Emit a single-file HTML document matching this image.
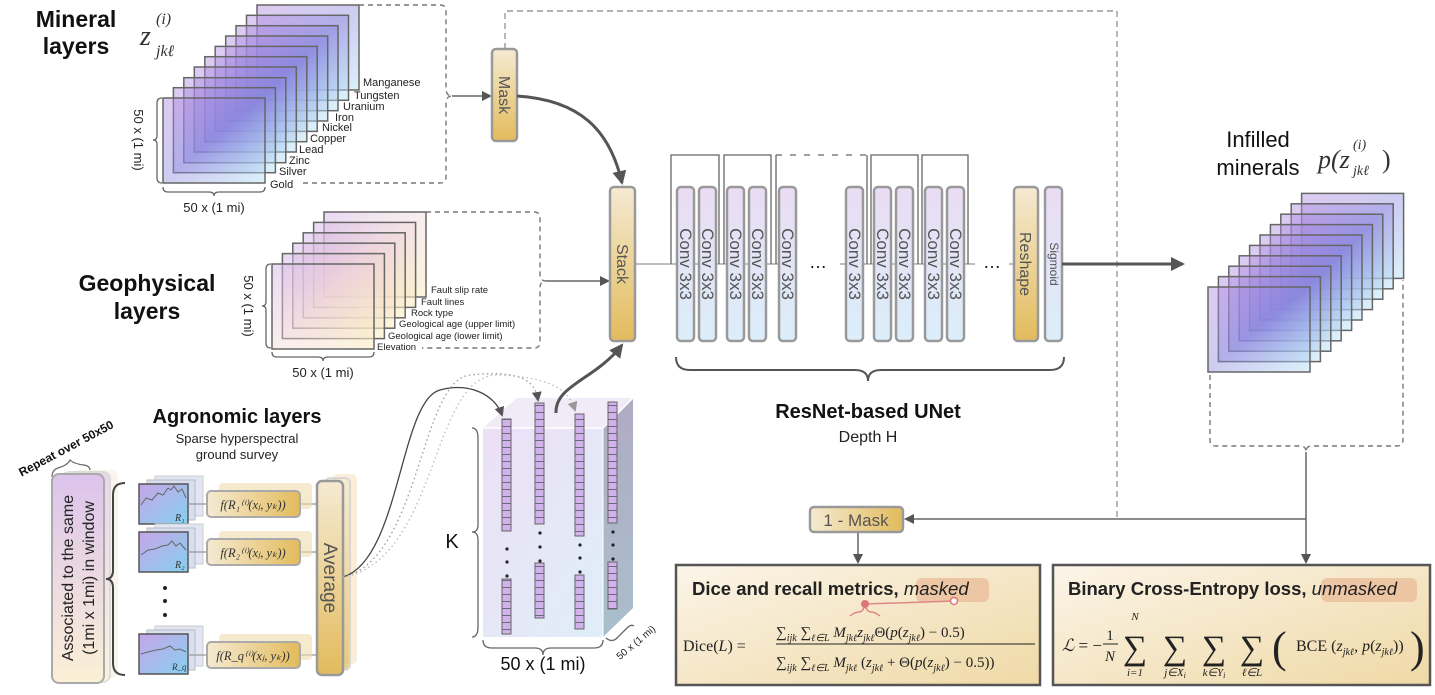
<!DOCTYPE html>
<html><head><meta charset="utf-8"><style>
html,body{margin:0;padding:0;background:#fff;}
svg{display:block;font-family:"Liberation Sans",sans-serif;}
</style></head><body>
<svg width="1435" height="695" viewBox="0 0 1435 695" xmlns="http://www.w3.org/2000/svg">
<defs>
<linearGradient id="gm" x1="0" y1="0" x2="1" y2="1"><stop offset="0" stop-color="#b58be0" stop-opacity="0.45"/><stop offset="0.5" stop-color="#8a86de" stop-opacity="0.42"/><stop offset="1" stop-color="#b8e6f6" stop-opacity="0.5"/></linearGradient>
<linearGradient id="gg" x1="0" y1="0" x2="1" y2="1"><stop offset="0" stop-color="#d6b8ea" stop-opacity="0.55"/><stop offset="0.5" stop-color="#efd4d6" stop-opacity="0.4"/><stop offset="1" stop-color="#fcf0c4" stop-opacity="0.65"/></linearGradient>
<linearGradient id="gc" x1="0" y1="0" x2="0" y2="1"><stop offset="0" stop-color="#eadcf4"/><stop offset="1" stop-color="#dbeef9"/></linearGradient>
<linearGradient id="gy" x1="0" y1="0" x2="0" y2="1"><stop offset="0" stop-color="#f5ead2"/><stop offset="1" stop-color="#e2bb5c"/></linearGradient>
<linearGradient id="gyh" x1="0" y1="0" x2="1" y2="0"><stop offset="0" stop-color="#f5ead2"/><stop offset="1" stop-color="#e2bb5c"/></linearGradient>
<linearGradient id="gbox" x1="0" y1="0" x2="1" y2="1"><stop offset="0" stop-color="#fbf4e8"/><stop offset="1" stop-color="#efd9a6"/></linearGradient>
<linearGradient id="gass" x1="0" y1="0" x2="0" y2="1"><stop offset="0" stop-color="#dcc3ec"/><stop offset="1" stop-color="#fbf0d6"/></linearGradient>
<linearGradient id="gsp" x1="0" y1="0" x2="1" y2="1"><stop offset="0" stop-color="#c6a6e6"/><stop offset="1" stop-color="#86d0f0"/></linearGradient>
<linearGradient id="gcube" x1="0" y1="0" x2="1" y2="1"><stop offset="0" stop-color="#eadcf4"/><stop offset="1" stop-color="#dcecf8"/></linearGradient>
<linearGradient id="gside" x1="0" y1="0" x2="0" y2="1"><stop offset="0" stop-color="#b0abc4"/><stop offset="1" stop-color="#a9bfcc"/></linearGradient>
<pattern id="cells" width="9" height="7" patternUnits="userSpaceOnUse"><rect width="9" height="7" fill="#d2b2ea"/><line x1="0" y1="6.5" x2="9" y2="6.5" stroke="#6a6a7a" stroke-width="1"/></pattern>
<marker id="ar" markerWidth="10" markerHeight="10" refX="8" refY="5" orient="auto" markerUnits="userSpaceOnUse"><path d="M0,0 L10,5 L0,10 z" fill="#555"/></marker>
<marker id="arL" markerWidth="10" markerHeight="10" refX="8" refY="5" orient="auto" markerUnits="userSpaceOnUse"><path d="M0,0 L10,5 L0,10 z" fill="#999"/></marker>
<marker id="arB" markerWidth="14" markerHeight="14" refX="12" refY="7" orient="auto" markerUnits="userSpaceOnUse"><path d="M0,0 L14,7 L0,14 z" fill="#555"/></marker>
</defs>

<!-- Mineral layers -->
<text x="76" y="27" font-size="23" font-weight="bold" text-anchor="middle" fill="#111">Mineral</text>
<text x="76" y="54" font-size="23" font-weight="bold" text-anchor="middle" fill="#111">layers</text>
<text x="140" y="45" font-family="Liberation Serif,serif" font-style="italic" font-size="28" fill="#333">z</text>
<text x="156" y="24" font-family="Liberation Serif,serif" font-style="italic" font-size="16" fill="#333">(i)</text>
<text x="156" y="56" font-family="Liberation Serif,serif" font-style="italic" font-size="16" fill="#333">jkℓ</text>
<g stroke="#666" stroke-width="1.5" fill="url(#gm)">
<rect x="257" y="5" width="102" height="85"/><rect x="246.5" y="15.3" width="102" height="85"/><rect x="236" y="25.7" width="102" height="85"/><rect x="225.7" y="36" width="102" height="85"/><rect x="215.2" y="46.4" width="102" height="85"/><rect x="204.8" y="56.7" width="102" height="85"/><rect x="194.3" y="67" width="102" height="85"/><rect x="183.8" y="77.7" width="102" height="85"/><rect x="173.4" y="87.7" width="102" height="85"/><rect x="163" y="98" width="102" height="85"/>
</g>
<g font-size="11" fill="#222">
<text x="363" y="86">Manganese</text><text x="354" y="99">Tungsten</text><text x="343" y="110">Uranium</text><text x="335" y="121">Iron</text><text x="322" y="131">Nickel</text><text x="310" y="142">Copper</text><text x="299" y="153">Lead</text><text x="289" y="164">Zinc</text><text x="279" y="175">Silver</text><text x="270" y="188">Gold</text>
</g>
<path d="M359,5 H440 Q446,5 446,11 V88 Q446,96 452,96 Q446,96 446,104 V177 Q446,183 440,183 H300" fill="none" stroke="#777" stroke-width="1.4" stroke-dasharray="5,4"/>
<line x1="452" y1="96" x2="490" y2="96" stroke="#666" stroke-width="1.5" marker-end="url(#ar)"/>
<path d="M162,98 Q157,98 157,103 V136 Q157,140 153,140 Q157,140 157,144 V178 Q157,183 162,183" fill="none" stroke="#666" stroke-width="1.3"/>
<text transform="translate(134,140) rotate(90)" font-size="13" text-anchor="middle" fill="#222">50 x (1 mi)</text>
<path d="M163,187 Q163,192 168,192 H209 Q214,192 214,196 Q214,192 219,192 H260 Q265,192 265,187" fill="none" stroke="#666" stroke-width="1.3"/>
<text x="214" y="212" font-size="13" text-anchor="middle" fill="#222">50 x (1 mi)</text>

<!-- Geophysical -->
<text x="147" y="291" font-size="23" font-weight="bold" text-anchor="middle" fill="#111">Geophysical</text>
<text x="147" y="319" font-size="23" font-weight="bold" text-anchor="middle" fill="#111">layers</text>
<g stroke="#666" stroke-width="1.5" fill="url(#gg)">
<rect x="324" y="212" width="102" height="85"/><rect x="313.6" y="222.4" width="102" height="85"/><rect x="303.2" y="232.8" width="102" height="85"/><rect x="292.8" y="243.2" width="102" height="85"/><rect x="282.4" y="253.6" width="102" height="85"/><rect x="272" y="264" width="102" height="85"/>
</g>
<g font-size="9.5" fill="#222">
<text x="431" y="293">Fault slip rate</text><text x="421" y="305">Fault lines</text><text x="411" y="316">Rock type</text><text x="399" y="327">Geological age (upper limit)</text><text x="388" y="339">Geological age (lower limit)</text><text x="377" y="350">Elevation</text>
</g>
<path d="M426,212 H534 Q540,212 540,218 V274 Q540,281 546,281 Q540,281 540,288 V342 Q540,348 534,348 H422" fill="none" stroke="#777" stroke-width="1.4" stroke-dasharray="5,4"/>
<line x1="546" y1="281" x2="608" y2="281" stroke="#666" stroke-width="1.5" marker-end="url(#ar)"/>
<path d="M271,264 Q266,264 266,269 V302 Q266,306 262,306 Q266,306 266,310 V343 Q266,348 271,348" fill="none" stroke="#666" stroke-width="1.3"/>
<text transform="translate(244,306) rotate(90)" font-size="13" text-anchor="middle" fill="#222">50 x (1 mi)</text>
<path d="M272,352 Q272,357 277,357 H318 Q323,357 323,361 Q323,357 328,357 H369 Q374,357 374,352" fill="none" stroke="#666" stroke-width="1.3"/>
<text x="323" y="377" font-size="13" text-anchor="middle" fill="#222">50 x (1 mi)</text>

<!-- Mask & top dashed -->
<path d="M505,49 V11 H1117 V519" fill="none" stroke="#999" stroke-width="1.4" stroke-dasharray="6,4"/>
<rect x="492" y="49" width="25" height="92" rx="4" fill="url(#gy)" stroke="#999" stroke-width="2.5"/>
<text transform="translate(499,95) rotate(90)" font-size="16" text-anchor="middle" fill="#555">Mask</text>
<path d="M517,96 C580,100 610,130 622,183" fill="none" stroke="#555" stroke-width="3" marker-end="url(#arB)"/>

<!-- Stack -->
<rect x="610" y="187" width="25" height="154" rx="4" fill="url(#gy)" stroke="#999" stroke-width="2.5"/>
<text transform="translate(617,264) rotate(90)" font-size="16" text-anchor="middle" fill="#555">Stack</text>

<!-- UNet -->
<line x1="636" y1="264" x2="1014" y2="264" stroke="#999" stroke-width="1.3"/>
<g fill="none" stroke="#666" stroke-width="1.3">
<path d="M671,264 V155 H719 V264"/><path d="M724,264 V155 H771 V264"/>
<path d="M776,264 V155 M867,155 V264"/><path d="M776,155 H867" stroke-dasharray="6,8"/>
<path d="M871,264 V155 H918 V264"/><path d="M922,264 V155 H968 V264"/>
</g>
<rect x="796" y="258" width="44" height="12" fill="#fff"/>
<rect x="975" y="258" width="34" height="12" fill="#fff"/>
<text x="818" y="268" font-size="18" text-anchor="middle" fill="#111">…</text>
<text x="992" y="268" font-size="18" text-anchor="middle" fill="#111">…</text>
<g fill="url(#gc)" stroke="#999" stroke-width="2.5">
<rect x="677" y="187" width="17" height="154" rx="4"/><rect x="699" y="187" width="17" height="154" rx="4"/>
<rect x="727" y="187" width="17" height="154" rx="4"/><rect x="749" y="187" width="17" height="154" rx="4"/>
<rect x="779" y="187" width="17" height="154" rx="4"/><rect x="846" y="187" width="17" height="154" rx="4"/>
<rect x="874" y="187" width="17" height="154" rx="4"/><rect x="896" y="187" width="17" height="154" rx="4"/>
<rect x="925" y="187" width="17" height="154" rx="4"/><rect x="947" y="187" width="17" height="154" rx="4"/>
<rect x="1045" y="187" width="17" height="154" rx="4"/>
</g>
<rect x="1014" y="187" width="24" height="154" rx="4" fill="url(#gy)" stroke="#999" stroke-width="2.5"/>
<g font-size="17" fill="#555" text-anchor="middle">
<text transform="translate(680,264) rotate(90)">Conv 3x3</text><text transform="translate(702,264) rotate(90)">Conv 3x3</text>
<text transform="translate(730,264) rotate(90)">Conv 3x3</text><text transform="translate(752,264) rotate(90)">Conv 3x3</text>
<text transform="translate(782,264) rotate(90)">Conv 3x3</text><text transform="translate(849,264) rotate(90)">Conv 3x3</text>
<text transform="translate(877,264) rotate(90)">Conv 3x3</text><text transform="translate(899,264) rotate(90)">Conv 3x3</text>
<text transform="translate(928,264) rotate(90)">Conv 3x3</text><text transform="translate(950,264) rotate(90)">Conv 3x3</text>
<text transform="translate(1020,264) rotate(90)" font-size="16">Reshape</text>
<text transform="translate(1050,264) rotate(90)" font-size="12">Sigmoid</text>
</g>
<line x1="1062" y1="264" x2="1183" y2="264" stroke="#555" stroke-width="3" marker-end="url(#arB)"/>
<path d="M676,357 Q676,370 690,370 H855 Q868,370 868,381 Q868,370 881,370 H1050 Q1064,370 1064,357" fill="none" stroke="#555" stroke-width="2"/>
<text x="868" y="418" font-size="20" font-weight="bold" text-anchor="middle" fill="#111">ResNet-based UNet</text>
<text x="868" y="442" font-size="16" text-anchor="middle" fill="#222">Depth H</text>

<!-- Infilled -->
<text x="1258" y="147" font-size="22" text-anchor="middle" fill="#111">Infilled</text>
<text x="1258" y="175" font-size="22" text-anchor="middle" fill="#111">minerals</text>
<text x="1318" y="168" font-family="Liberation Serif,serif" font-style="italic" font-size="26" fill="#333">p(z</text>
<text x="1353" y="149" font-family="Liberation Serif,serif" font-style="italic" font-size="14" fill="#333">(i)</text>
<text x="1353" y="175" font-family="Liberation Serif,serif" font-style="italic" font-size="14" fill="#333">jkℓ</text>
<text x="1382" y="168" font-family="Liberation Serif,serif" font-size="26" fill="#333">)</text>
<g stroke="#666" stroke-width="1.5" fill="url(#gm)">
<rect x="1301.6" y="193.4" width="102" height="85"/><rect x="1291.2" y="203.8" width="102" height="85"/><rect x="1280.8" y="214.2" width="102" height="85"/><rect x="1270.4" y="224.6" width="102" height="85"/><rect x="1260" y="235" width="102" height="85"/><rect x="1249.6" y="245.4" width="102" height="85"/><rect x="1239.2" y="255.8" width="102" height="85"/><rect x="1228.8" y="266.2" width="102" height="85"/><rect x="1218.4" y="276.6" width="102" height="85"/><rect x="1208" y="287" width="102" height="85"/>
</g>
<path d="M1210,375 V440 Q1210,446 1216,446 H1300 Q1306,446 1306,452 Q1306,446 1312,446 H1397 Q1403,446 1403,440 V280" fill="none" stroke="#777" stroke-width="1.4" stroke-dasharray="5,4"/>
<line x1="1306" y1="452" x2="1306" y2="519" stroke="#666" stroke-width="1.5"/>
<line x1="1306" y1="519" x2="906" y2="519" stroke="#666" stroke-width="1.5" marker-end="url(#ar)"/>
<line x1="1306" y1="519" x2="1306" y2="562" stroke="#666" stroke-width="1.5" marker-end="url(#ar)"/>
<rect x="810" y="507" width="93" height="25" rx="4" fill="url(#gyh)" stroke="#999" stroke-width="2.5"/>
<text x="856" y="526" font-size="17" text-anchor="middle" fill="#555">1 - Mask</text>
<line x1="858" y1="533" x2="858" y2="562" stroke="#666" stroke-width="1.5" marker-end="url(#ar)"/>

<!-- Dice box -->
<rect x="676" y="565" width="364" height="120" fill="url(#gbox)" stroke="#555" stroke-width="2.5"/>
<rect x="916" y="578" width="73" height="24" rx="6" fill="#eab895" opacity="0.7"/>
<text x="692" y="595" font-size="18.5" font-weight="bold" fill="#222">Dice and recall metrics, <tspan font-weight="normal" font-style="italic">masked</tspan></text>
<path d="M850,616 Q855,612 859,612 Q863,612 865,605 Q867,612 871,612 Q875,612 880,616" fill="none" stroke="#d77" stroke-width="1.3"/>
<line x1="865" y1="604" x2="954" y2="601" stroke="#d88" stroke-width="1.5"/>
<circle cx="865" cy="604" r="4" fill="#d77"/><circle cx="954" cy="601" r="3.5" fill="#fff" stroke="#d77" stroke-width="1.5"/>
<g font-family="Liberation Serif,serif" fill="#222">
<text x="683" y="651" font-size="16">Dice(<tspan font-style="italic">L</tspan>) =</text>
<line x1="776" y1="644" x2="1035" y2="644" stroke="#222" stroke-width="1"/>
<text x="776" y="637" font-size="15">∑<tspan font-size="10" font-style="italic" dy="4">ijk</tspan><tspan dy="-4"> ∑</tspan><tspan font-size="10" font-style="italic" dy="4">ℓ∈L</tspan><tspan dy="-4" font-style="italic"> M</tspan><tspan font-size="10" font-style="italic" dy="4">jkℓ</tspan><tspan dy="-4" font-style="italic">z</tspan><tspan font-size="10" font-style="italic" dy="4">jkℓ</tspan><tspan dy="-4">Θ(</tspan><tspan font-style="italic">p</tspan>(<tspan font-style="italic">z</tspan><tspan font-size="10" font-style="italic" dy="4">jkℓ</tspan><tspan dy="-4">) − 0.5)</tspan></text>
<text x="776" y="667" font-size="15">∑<tspan font-size="10" font-style="italic" dy="4">ijk</tspan><tspan dy="-4"> ∑</tspan><tspan font-size="10" font-style="italic" dy="4">ℓ∈L</tspan><tspan dy="-4" font-style="italic"> M</tspan><tspan font-size="10" font-style="italic" dy="4">jkℓ</tspan><tspan dy="-4"> (</tspan><tspan font-style="italic">z</tspan><tspan font-size="10" font-style="italic" dy="4">jkℓ</tspan><tspan dy="-4"> + Θ(</tspan><tspan font-style="italic">p</tspan>(<tspan font-style="italic">z</tspan><tspan font-size="10" font-style="italic" dy="4">jkℓ</tspan><tspan dy="-4">) − 0.5))</tspan></text>
</g>

<!-- BCE box -->
<rect x="1053" y="565" width="377" height="120" fill="url(#gbox)" stroke="#555" stroke-width="2.5"/>
<rect x="1321" y="578" width="96" height="24" rx="6" fill="#eab895" opacity="0.7"/>
<text x="1068" y="595" font-size="18.5" font-weight="bold" fill="#222">Binary Cross-Entropy loss, <tspan font-weight="normal" font-style="italic">unmasked</tspan></text>
<g font-family="Liberation Serif,serif" fill="#222">
<text x="1062" y="651" font-size="17"><tspan font-style="italic">ℒ</tspan> = −</text>
<text x="1110" y="640" font-size="15" text-anchor="middle">1</text>
<line x1="1103" y1="644" x2="1118" y2="644" stroke="#222"/>
<text x="1110" y="661" font-size="15" font-style="italic" text-anchor="middle">N</text>
<text x="1135" y="659" font-size="34" text-anchor="middle">∑</text>
<text x="1175" y="659" font-size="34" text-anchor="middle">∑</text>
<text x="1214" y="659" font-size="34" text-anchor="middle">∑</text>
<text x="1252" y="659" font-size="34" text-anchor="middle">∑</text>
<text x="1135" y="620" font-size="11" font-style="italic" text-anchor="middle">N</text>
<g font-size="11" font-style="italic" text-anchor="middle">
<text x="1135" y="676">i=1</text><text x="1175" y="676">j∈X<tspan font-size="8" dy="2">i</tspan></text><text x="1214" y="676">k∈Y<tspan font-size="8" dy="2">i</tspan></text><text x="1252" y="676">ℓ∈L</text>
</g>
<text x="1272" y="662" font-size="44">(</text>
<text x="1296" y="651" font-size="16">BCE (<tspan font-style="italic">z</tspan><tspan font-size="10" font-style="italic" dy="4">jkℓ</tspan><tspan dy="-4">, </tspan><tspan font-style="italic">p</tspan>(<tspan font-style="italic">z</tspan><tspan font-size="10" font-style="italic" dy="4">jkℓ</tspan><tspan dy="-4">))</tspan></text>
<text x="1410" y="662" font-size="44">)</text>
</g>

<!-- Agronomic -->
<text x="237" y="423" font-size="20" font-weight="bold" text-anchor="middle" fill="#111">Agronomic layers</text>
<text x="237" y="443" font-size="13" text-anchor="middle" fill="#222">Sparse hyperspectral</text>
<text x="237" y="459" font-size="13" text-anchor="middle" fill="#222">ground survey</text>
<text transform="translate(68,452) rotate(-28)" font-size="12" font-weight="bold" text-anchor="middle" fill="#111">Repeat over 50x50</text>
<path d="M52,477 Q52,470 58,468 Q68,465 70,460 Q74,464 84,465 Q90,466 90,470" fill="none" stroke="#666" stroke-width="1.2"/>
<rect x="72" y="470" width="46" height="208" rx="7" fill="#f3ebdc" opacity="0.5"/>
<rect x="62" y="472" width="48" height="210" rx="7" fill="url(#gass)" stroke="#ccc" stroke-width="2" opacity="0.6"/>
<rect x="52" y="474" width="52" height="209" rx="7" fill="url(#gass)" stroke="#aaa" stroke-width="2"/>
<text transform="translate(73,578) rotate(-90)" font-size="16" text-anchor="middle" fill="#222">Associated to the same</text>
<text transform="translate(94,578) rotate(-90)" font-size="16" text-anchor="middle" fill="#222">(1mi x 1mi) in window</text>
<path d="M125,483 Q113,483 113,495 V570 Q113,579 106,579 Q113,579 113,588 V663 Q113,675 125,675" fill="none" stroke="#444" stroke-width="2"/>
<g>
<rect x="155" y="476" width="48" height="40" fill="#e2e6f4" stroke="#ccc"/>
<rect x="147" y="480" width="48" height="40" fill="#d8dff2" stroke="#bbb"/>
<rect x="139" y="484" width="49" height="40" fill="url(#gsp)" stroke="#555" stroke-width="1.5"/>
<polyline points="141,505 146,498 152,500 158,493 163,495 168,488 171,490 174,486 178,492 182,489 186,498" fill="none" stroke="#666" stroke-width="1"/>
<text x="175" y="521" font-family="Liberation Serif,serif" font-style="italic" font-size="10" fill="#333">R₁</text>
<rect x="155" y="524" width="48" height="40" fill="#e2e6f4" stroke="#ccc"/>
<rect x="147" y="528" width="48" height="40" fill="#d8dff2" stroke="#bbb"/>
<rect x="139" y="532" width="49" height="40" fill="url(#gsp)" stroke="#555" stroke-width="1.5"/>
<polyline points="141,555 148,550 155,549 162,546 168,545 172,541 176,546 180,543 186,550" fill="none" stroke="#666" stroke-width="1"/>
<text x="175" y="568" font-family="Liberation Serif,serif" font-style="italic" font-size="10" fill="#333">R₂</text>
<rect x="155" y="626" width="48" height="40" fill="#e2e6f4" stroke="#ccc"/>
<rect x="147" y="630" width="48" height="40" fill="#d8dff2" stroke="#bbb"/>
<rect x="139" y="634" width="49" height="40" fill="url(#gsp)" stroke="#555" stroke-width="1.5"/>
<polyline points="141,654 148,652 156,650 163,649 170,646 175,650 180,649 186,652" fill="none" stroke="#666" stroke-width="1"/>
<text x="172" y="670" font-family="Liberation Serif,serif" font-style="italic" font-size="9" fill="#333">R_q</text>
</g>
<g fill="#222"><circle cx="165" cy="588" r="2"/><circle cx="165" cy="601" r="2"/><circle cx="165" cy="615" r="2"/></g>
<g stroke="#999" stroke-width="1.2"><line x1="188" y1="504" x2="207" y2="504"/><line x1="188" y1="552" x2="207" y2="552"/><line x1="188" y1="655" x2="207" y2="655"/>
<line x1="300" y1="504" x2="317" y2="504"/><line x1="300" y1="552" x2="317" y2="552"/><line x1="300" y1="655" x2="317" y2="655"/></g>
<g>
<rect x="219" y="483" width="93" height="26" rx="4" fill="#f0dcae" opacity="0.6"/>
<rect x="207" y="491" width="93" height="26" rx="4" fill="url(#gyh)" stroke="#aaa" stroke-width="2"/>
<rect x="219" y="531" width="93" height="26" rx="4" fill="#f0dcae" opacity="0.6"/>
<rect x="207" y="539" width="93" height="26" rx="4" fill="url(#gyh)" stroke="#aaa" stroke-width="2"/>
<rect x="219" y="634" width="93" height="26" rx="4" fill="#f0dcae" opacity="0.6"/>
<rect x="207" y="642" width="93" height="26" rx="4" fill="url(#gyh)" stroke="#aaa" stroke-width="2"/>
</g>
<g font-family="Liberation Serif,serif" font-style="italic" font-size="12.5" fill="#333" text-anchor="middle">
<text x="253" y="509">f(R₁⁽ⁱ⁾(xⱼ, yₖ))</text>
<text x="253" y="557">f(R₂⁽ⁱ⁾(xⱼ, yₖ))</text>
<text x="253" y="660">f(R_q⁽ⁱ⁾(xⱼ, yₖ))</text>
</g>
<rect x="333" y="474" width="24" height="190" rx="5" fill="#f3e3bf" opacity="0.6"/>
<rect x="325" y="478" width="25" height="192" rx="5" fill="url(#gy)" stroke="#ccc" stroke-width="2" opacity="0.7"/>
<rect x="317" y="481" width="26" height="194" rx="5" fill="url(#gy)" stroke="#999" stroke-width="2.5"/>
<text transform="translate(324,578) rotate(90)" font-size="19" text-anchor="middle" fill="#555">Average</text>

<!-- cube -->
<polygon points="483,428 517,398 633,398 603,428" fill="#efe8f7" opacity="0.85"/>
<polygon points="603,428 633,398 633,608 603,637" fill="url(#gside)"/>
<rect x="483" y="428" width="120" height="209" fill="url(#gcube)" opacity="0.9"/>
<polyline points="483,428 603,428 633,398" fill="none" stroke="#fff" stroke-width="1.5"/>
<line x1="603" y1="428" x2="603" y2="637" stroke="#fff" stroke-width="1"/>
<g stroke="#666" stroke-width="1" fill="url(#cells)">
<rect x="608" y="402" width="9" height="121"/><rect x="608" y="562" width="9" height="47"/>
<rect x="502" y="419" width="9" height="112"/><rect x="502" y="579" width="9" height="55"/>
<rect x="535" y="403" width="9" height="121"/><rect x="535" y="563" width="9" height="55"/>
<rect x="575" y="414" width="9" height="122"/><rect x="575" y="575" width="9" height="54"/>
</g>
<g fill="#222">
<circle cx="507" cy="549" r="1.6"/><circle cx="507" cy="562" r="1.6"/><circle cx="507" cy="576" r="1.6"/>
<circle cx="540" cy="533" r="1.6"/><circle cx="540" cy="547" r="1.6"/><circle cx="540" cy="561" r="1.6"/>
<circle cx="580" cy="545" r="1.6"/><circle cx="580" cy="558" r="1.6"/><circle cx="580" cy="572" r="1.6"/>
<circle cx="613" cy="532" r="1.6"/><circle cx="613" cy="545" r="1.6"/><circle cx="613" cy="559" r="1.6"/>
</g>
<path d="M472,428 Q478,428 478,438 V525 Q478,532 472,532 Q478,532 478,540 V627 Q478,637 472,637" fill="none" stroke="#666" stroke-width="1.3"/>
<text x="452" y="548" font-size="20" text-anchor="middle" fill="#111">K</text>
<path d="M483,640 Q483,648 492,648 H535 Q543,648 543,655 Q543,648 551,648 H594 Q603,648 603,640" fill="none" stroke="#666" stroke-width="1.3"/>
<text x="543" y="670" font-size="18" text-anchor="middle" fill="#111">50 x (1 mi)</text>
<path d="M606,638 Q612,643 617,638 L627,628 Q631,624 634,626" fill="none" stroke="#666" stroke-width="1.3"/>
<text transform="translate(638,645) rotate(-40)" font-size="10" text-anchor="middle" fill="#222">50 x (1 mi)</text>

<path d="M343,577 C400,560 400,400 440,390 C470,382 495,395 502,415" fill="none" stroke="#444" stroke-width="1.3" marker-end="url(#ar)"/>
<path d="M343,577 C420,560 420,380 470,375 C520,370 535,380 538,400" fill="none" stroke="#999" stroke-width="1.3" stroke-dasharray="1.5,3" marker-end="url(#ar)"/>
<path d="M343,577 C440,560 430,370 500,375 C560,378 570,395 575,410" fill="none" stroke="#bbb" stroke-width="1.3" stroke-dasharray="1.5,3" marker-end="url(#arL)"/>
<path d="M556,413 C555,385 595,380 622,345" fill="none" stroke="#555" stroke-width="3" marker-end="url(#arB)"/>
</svg>
</body></html>
